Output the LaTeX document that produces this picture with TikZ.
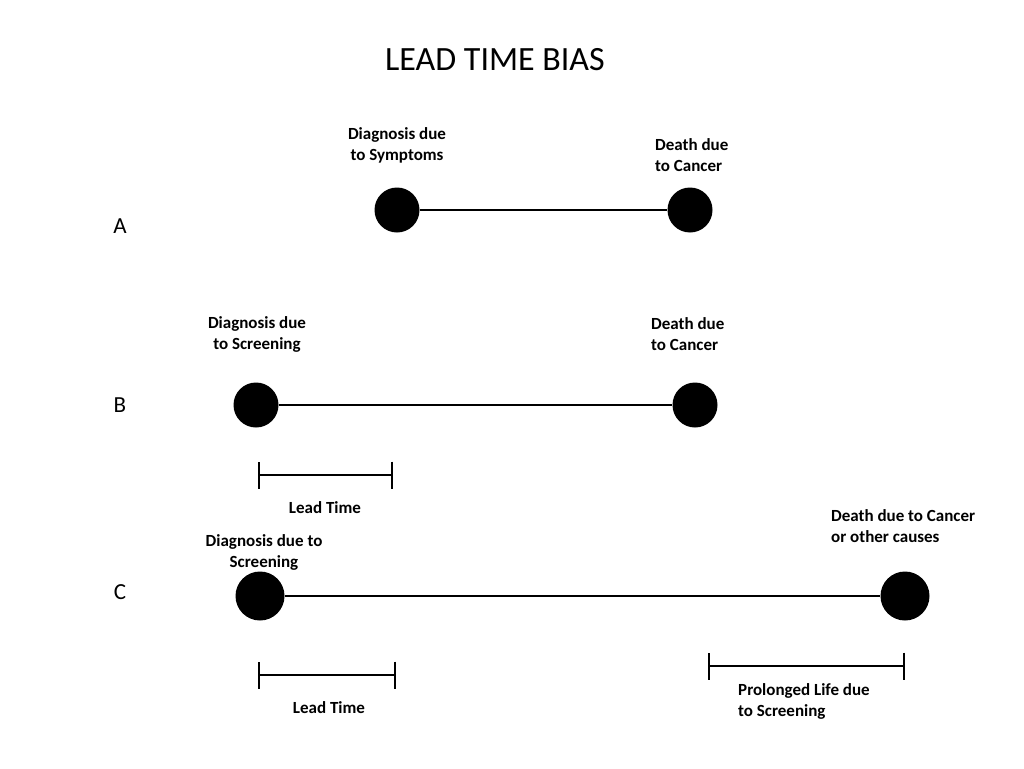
\documentclass[tikz,border=0pt]{standalone}
\usepackage{fontspec}
\setmainfont{Carlito}
\usetikzlibrary{positioning,arrows.meta}

\tikzset{
    dot/.style={circle, fill=black, inner sep=0pt, minimum size=45pt},
    lbl/.style={font=\bfseries\fontsize{17}{21}\selectfont, inner sep=0pt},
    rowlbl/.style={font=\fontsize{23}{26}\selectfont, inner sep=0pt},
    timeline/.style={line width=2pt},
    span/.style={line width=2pt, {Bar[width=27pt,line width=2pt]}-{Bar[width=27pt,line width=2pt]}}
}

\begin{document}
\begin{tikzpicture}[x=1pt,y=-1pt]
    \useasboundingbox[fill=white] (0,0) rectangle (1024,768);
    \node[font=\fontsize{34}{38}\selectfont] (title) at (495,60) {LEAD TIME BIAS};

    % row labels
    \foreach \r/\y in {A/226,B/405,C/592}
        \node[rowlbl] (row\r) at (120,\y) {\r};

    % A: diagnosis due to symptoms
    \node[dot] (a1) at (397,210) {};
    \node[dot] (a2) at (690,210) {};
    \draw[timeline] (a1) -- (a2);
    \node[lbl, align=center] (a1txt) at (397,145) {Diagnosis due\\to Symptoms};
    \node[lbl, align=left, anchor=west] (a2txt) at (655,155) {Death due\\to Cancer};

    % B: diagnosis due to screening
    \node[dot] (b1) at (256,405) {};
    \node[dot] (b2) at (695,405) {};
    \draw[timeline] (b1) -- (b2);
    \node[lbl, align=center] (b1txt) at (257,334) {Diagnosis due\\to Screening};
    \node[lbl, align=left, anchor=west] (b2txt) at (651,334) {Death due\\to Cancer};
    \coordinate (bl1) at (258,475);
    \coordinate (bl2) at (393,475);
    \draw[span] (bl1) -- (bl2);
    \node[lbl] (bltxt) at (325,508) {Lead Time};

    % C: screening, prolonged life
    \node[dot, minimum size=49pt] (c1) at (260,596) {};
    \node[dot, minimum size=49pt] (c2) at (905,596) {};
    \draw[timeline] (c1) -- (c2);
    \node[lbl, align=center] (c1txt) at (264,552) {Diagnosis due to\\Screening};
    \node[lbl, align=left, anchor=west] (c2txt) at (831,526) {Death due to Cancer\\or other causes};
    \coordinate (cl1) at (258,675);
    \coordinate (cl2) at (396,675);
    \draw[span] (cl1) -- (cl2);
    \node[lbl] (cltxt) at (329,708) {Lead Time};
    \coordinate (pl1) at (708,666);
    \coordinate (pl2) at (905,666);
    \draw[span] (pl1) -- (pl2);
    \node[lbl, align=left, anchor=west] (pltxt) at (738,701) {Prolonged Life due\\to Screening};
\end{tikzpicture}
\end{document}
